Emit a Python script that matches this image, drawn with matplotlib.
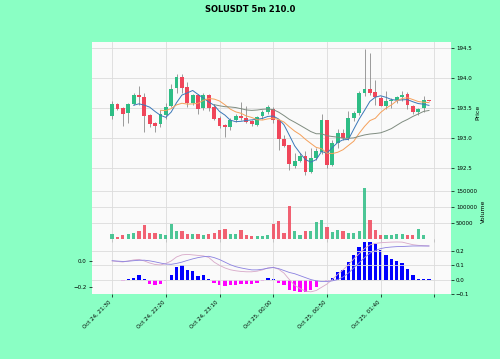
import matplotlib
matplotlib.use('Agg')
import matplotlib.pyplot as plt
import numpy as np
import pandas as pd

# datos OHLC (velas de 5 minutos)
opens = [193.37, 193.56, 193.50, 193.41, 193.56, 193.72, 193.69, 193.38, 193.25, 193.23,
         193.38, 193.53, 193.83, 194.02, 193.85, 193.58, 193.72, 193.50, 193.72, 193.52,
         193.33, 193.21, 193.18, 193.30, 193.36, 193.33, 193.28, 193.22, 193.36, 193.44,
         193.49, 193.30, 192.98, 192.88, 192.53, 192.62, 192.70, 192.44, 192.66, 192.77,
         193.30, 192.55, 192.92, 193.09, 193.00, 193.33, 193.41, 193.75, 193.81, 193.77,
         193.66, 193.53, 193.62, 193.63, 193.68, 193.73, 193.53, 193.44, 193.50, 193.63]
highs = [193.62, 193.58, 193.52, 193.58, 193.75, 193.86, 193.75, 193.40, 193.27, 193.47,
         193.58, 193.90, 194.06, 194.07, 193.93, 193.73, 193.73, 193.75, 193.73, 193.57,
         193.37, 193.23, 193.33, 193.40, 193.60, 193.53, 193.30, 193.37, 193.47, 193.55,
         193.52, 193.30, 193.05, 192.88, 192.75, 192.75, 192.78, 192.83, 192.83, 193.40,
         193.30, 192.97, 193.15, 193.15, 193.45, 193.45, 193.78, 194.48, 194.42, 193.96,
         193.70, 193.78, 193.66, 193.70, 193.78, 193.77, 193.55, 193.50, 193.70, 193.64]
lows = [193.32, 193.46, 193.20, 193.25, 193.55, 193.55, 193.10, 193.19, 193.10, 193.19,
        193.32, 193.51, 193.75, 193.75, 193.52, 193.55, 193.40, 193.47, 193.45, 193.30,
        193.17, 193.02, 193.13, 193.27, 193.30, 193.25, 193.20, 193.20, 193.32, 193.40,
        193.25, 192.80, 192.85, 192.47, 192.50, 192.60, 192.38, 192.41, 192.63, 192.73,
        192.50, 192.53, 192.83, 192.97, 192.97, 193.28, 193.38, 193.70, 193.72, 193.55,
        193.53, 193.48, 193.50, 193.58, 193.62, 193.48, 193.40, 193.38, 193.44, 193.61]
closes = [193.57, 193.48, 193.40, 193.56, 193.72, 193.69, 193.37, 193.23, 193.20, 193.40,
          193.52, 193.81, 194.02, 193.83, 193.58, 193.72, 193.48, 193.72, 193.50, 193.31,
          193.20, 193.18, 193.30, 193.37, 193.34, 193.27, 193.23, 193.35, 193.44, 193.51,
          193.30, 192.98, 192.87, 192.57, 192.62, 192.70, 192.44, 192.66, 192.78, 193.30,
          192.55, 192.91, 193.09, 193.00, 193.33, 193.41, 193.75, 193.81, 193.75, 193.68,
          193.53, 193.62, 193.63, 193.68, 193.72, 193.55, 193.44, 193.48, 193.63, 193.62]
volumes = [16600, 8000, 14000, 18000, 21000, 27000, 45000, 21000, 19000, 16000,
           13000, 47000, 27000, 27000, 16000, 18000, 16000, 14000, 16000, 21000,
           30000, 32000, 16000, 18000, 29000, 14000, 10000, 10000, 11000, 14000,
           48000, 58000, 21000, 105000, 27000, 13500, 25000, 27000, 53000, 61000,
           37500, 22000, 29000, 27000, 20000, 20000, 25000, 160000, 60000, 29000,
           14000, 14000, 13000, 18000, 17000, 15000, 14000, 31000, 13000, 2000]

# MACD
macd = [0.004, 0.0, -0.004, 0.004, 0.012, 0.016, 0.004, -0.012, -0.023, -0.027,
        -0.016, 0.004, 0.035, 0.051, 0.055, 0.051, 0.047, 0.043, 0.031, -0.005,
        -0.03, -0.05, -0.064, -0.072, -0.077, -0.08, -0.08, -0.075, -0.065, -0.05,
        -0.045, -0.06, -0.09, -0.14, -0.185, -0.21, -0.23, -0.235, -0.225, -0.2,
        -0.175, -0.14, -0.1, -0.065, -0.025, 0.02, 0.06, 0.1, 0.128, 0.14,
        0.145, 0.148, 0.15, 0.151, 0.15, 0.14, 0.13, 0.125, 0.122, 0.12]
signal = [0.006, 0.003, 0.0, 0.002, 0.006, 0.009, 0.01, 0.005, -0.003, -0.012,
          -0.02, -0.022, -0.015, -0.005, 0.008, 0.02, 0.03, 0.037, 0.04, 0.03,
          0.015, -0.005, -0.025, -0.04, -0.05, -0.058, -0.065, -0.065, -0.06, -0.052,
          -0.047, -0.055, -0.07, -0.085, -0.095, -0.11, -0.125, -0.14, -0.15, -0.155,
          -0.155, -0.15, -0.14, -0.12, -0.09, -0.05, -0.01, 0.03, 0.064, 0.085,
          0.1, 0.108, 0.112, 0.115, 0.116, 0.118, 0.12, 0.12, 0.12, 0.12]
histogram = [-0.003, -0.004, -0.012, 0.003, 0.012, 0.03, 0.003, -0.028, -0.035, -0.028,
             -0.01, 0.03, 0.087, 0.1, 0.065, 0.057, 0.023, 0.03, 0.003, -0.023,
             -0.04, -0.046, -0.04, -0.035, -0.032, -0.032, -0.032, -0.023, -0.01, 0.012,
             0.003, -0.023, -0.04, -0.07, -0.078, -0.085, -0.085, -0.075, -0.05, -0.004,
             -0.01, 0.012, 0.053, 0.07, 0.123, 0.17, 0.228, 0.263, 0.263, 0.247,
             0.205, 0.174, 0.147, 0.128, 0.116, 0.072, 0.03, 0.003, 0.002, 0.002]

inicio = '2023-10-24 21:30'
titulo = 'SOLUSDT 5m 210.0'
medias = [5, 10, 20]
colores_medias = ['#3b78b8', '#f5a05a', '#7f8c80']

color_sube = '#2ebd85'
color_baja = '#f0465a'
color_mecha = '#8c8c8c'
fondo_fig = '#8affc4'
fondo_ejes = '#fafafa'
color_rejilla = '#dcdcdc'

fechas = pd.date_range(inicio, periods=len(closes), freq='5min')
x = np.arange(len(closes))
o = np.array(opens); c = np.array(closes)
sube = c >= o
colores = np.where(sube, color_sube, color_baja)

fig = plt.figure(figsize=(5, 3.59), dpi=100, facecolor=fondo_fig)
izq, ancho = 0.1834, 0.7186
ax_precio = fig.add_axes([izq, 0.4911, ancho, 0.3927])
ax_vol = fig.add_axes([izq, 0.3329, ancho, 0.1582], sharex=ax_precio)
ax_macd = fig.add_axes([izq, 0.1802, ancho, 0.1527], sharex=ax_precio)
ax_hist = ax_macd.twinx()

for ax in (ax_precio, ax_vol, ax_macd):
    ax.set_facecolor(fondo_ejes)
    ax.grid(True, color=color_rejilla, linewidth=0.6)
    ax.set_axisbelow(True)
for ax in (ax_precio, ax_vol, ax_macd, ax_hist):
    for s in ax.spines.values():
        s.set_visible(False)
    ax.tick_params(labelsize=4, length=2, width=0.5, pad=1.5)

# velas
ax_precio.vlines(x, lows, highs, color=color_mecha, linewidth=0.6, zorder=2)
ax_precio.bar(x, np.maximum(np.abs(c - o), 0.004), bottom=np.minimum(o, c),
              width=0.72, color=colores, zorder=3)
serie = pd.Series(closes)
for n, col in zip(medias, colores_medias):
    ax_precio.plot(x, serie.rolling(n).mean(), color=col, linewidth=0.7, zorder=4)
ax_precio.yaxis.tick_right()
ax_precio.yaxis.set_label_position('right')
ax_precio.set_ylabel('Price', fontsize=4.5, labelpad=3)
ax_precio.set_ylim(192.255, 194.605)
ax_precio.set_yticks([192.5, 193.0, 193.5, 194.0, 194.5])
ax_precio.tick_params(axis='x', labelbottom=False)

# volumen
ax_vol.bar(x, volumes, width=0.6, color=colores, alpha=0.85)
ax_vol.yaxis.tick_right()
ax_vol.yaxis.set_label_position('right')
ax_vol.set_ylabel('Volume', fontsize=4.5, labelpad=3)
ax_vol.set_ylim(0, 1.1 * max(volumes))
ax_vol.set_yticks([50000, 100000, 150000])
ax_vol.tick_params(axis='x', labelbottom=False)

# MACD
ax_macd.plot(x, macd, color='#d7a8c8', linewidth=0.6)
ax_macd.plot(x, signal, color='#8a80e0', linewidth=0.6)
ax_macd.yaxis.tick_left()
ax_macd.set_yticks([-0.2, 0.0])
ax_hist.bar(x, histogram, width=0.62,
            color=['#0000ff' if h >= 0 else '#ff00ff' for h in histogram])
ax_hist.set_yticks([-0.1, 0.0, 0.1, 0.2])
ax_hist.grid(True, color=color_rejilla, linewidth=0.6)
ax_macd.grid(False, axis='y')
ax_hist.set_zorder(ax_macd.get_zorder() - 1)
ax_macd.patch.set_visible(False)
ax_hist.set_facecolor(fondo_ejes)
ax_hist.patch.set_visible(True)

marcas = np.arange(0, 61, 10)
etiquetas = [fechas[i].strftime('%b %d, %H:%M') if i < len(fechas) else '' for i in marcas]
ax_macd.set_xticks(marcas)
ax_macd.set_xticklabels(etiquetas, rotation=45, ha='right', fontsize=4)
ax_macd.set_xlim(-3.8, 63.1)

fig.suptitle(titulo, fontsize=6, fontweight='bold', y=0.985)
fig.savefig('out.png', dpi=100, facecolor=fondo_fig)
